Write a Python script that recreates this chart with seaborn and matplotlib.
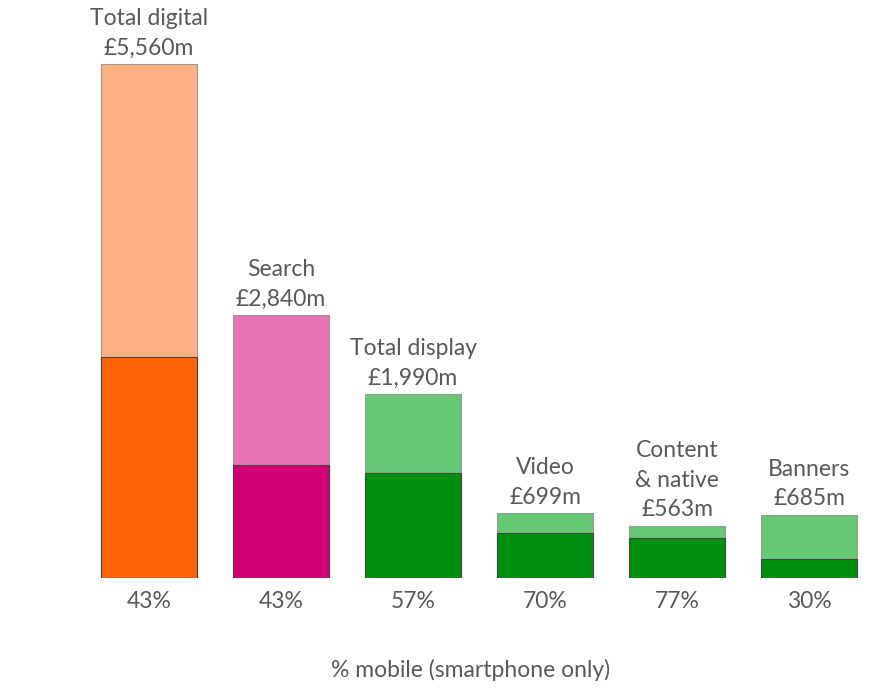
import matplotlib
matplotlib.use('Agg')
import matplotlib.pyplot as plt
import seaborn as sns

# spend data (GBP m) and mobile share
categories = ['Total digital', 'Search', 'Total display', 'Video', 'Content\n& native', 'Banners']
totals = [5560, 2840, 1990, 699, 563, 685]
mobile_pct = [43, 43, 57, 70, 77, 30]
light_colors = ['#FDB183', '#E672B4', '#66C873', '#66C873', '#66C873', '#66C873']
dark_colors = ['#FF6305', '#D10074', '#009010', '#009010', '#009010', '#009010']

mobile = [t * p / 100 for t, p in zip(totals, mobile_pct)]

sns.set_style('white')
plt.rcParams['font.family'] = ['Lato', 'DejaVu Sans']
text_color = '#595959'

fig = plt.figure(figsize=(8.76, 6.88), dpi=100)
ax = fig.add_axes([0, 110 / 688, 1, 578 / 688])

bar_w = 96 / 132
sns.barplot(x=categories, y=totals, hue=categories, palette=light_colors, saturation=1,
            legend=False, width=bar_w, edgecolor='#999999', linewidth=0.8, ax=ax)
sns.barplot(x=categories, y=mobile, hue=categories, palette=dark_colors, saturation=1,
            legend=False, width=bar_w, edgecolor='#444444', linewidth=0.8, ax=ax)

ax.set_xlim(-149 / 132, -149 / 132 + 876 / 132)
ax.set_ylim(0, 578 / (514 / 5560))
ax.axis('off')

# value labels above bars
for i, (cat, t) in enumerate(zip(categories, totals)):
    ax.annotate(f'{cat}\n£{t:,}m', (i, t), xytext=(0, 4), textcoords='offset points',
                ha='center', va='bottom', fontsize=16.5, color=text_color, linespacing=1.5)
    ax.annotate(f'{mobile_pct[i]}%', (i, 0), xytext=(0, -17), textcoords='offset points',
                ha='center', va='center', fontsize=16.5, color=text_color)

fig.text(0.537, 1 - 670 / 688, '% mobile (smartphone only)', ha='center', va='center',
         fontsize=16.5, color=text_color)

fig.savefig('out.png', dpi=100)
